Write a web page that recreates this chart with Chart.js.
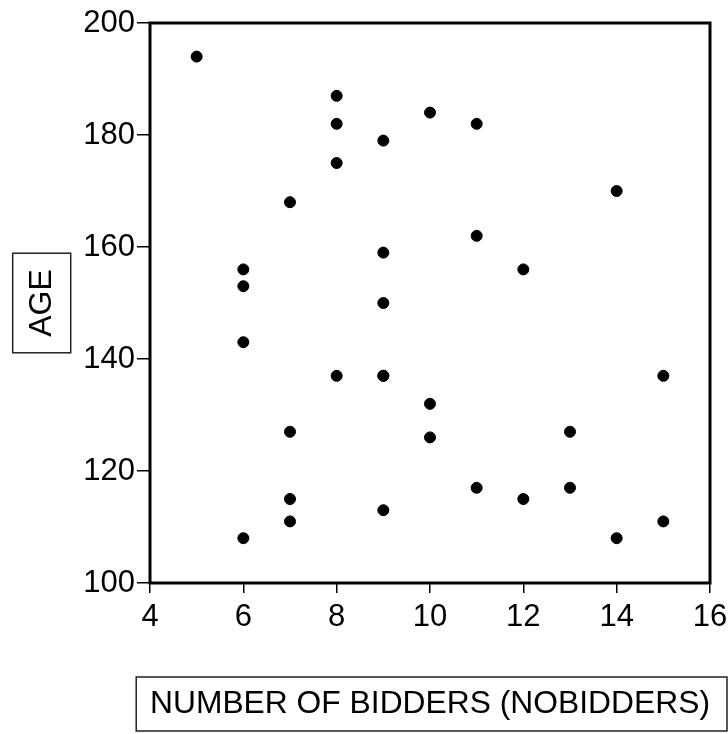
<!DOCTYPE html>
<html>
<head>
<meta charset="utf-8">
<script src="https://cdn.jsdelivr.net/npm/chart.js@4.4.1/dist/chart.umd.min.js"></script>
<style>
  html, body { margin: 0; padding: 0; background: #fff; }
  #wrap { width: 728px; height: 734px; }
</style>
</head>
<body>
<div id="wrap"><canvas id="scatterChart"></canvas></div>
<script>
// number of bidders vs age
let bidders = [5, 6, 6, 6, 6, 7, 7, 7, 7, 8, 8, 8, 8, 9, 9, 9, 9, 9, 9,
  10, 10, 10, 11, 11, 11, 12, 12, 13, 13, 14, 14, 15, 15];
let ages = [194, 156, 153, 143, 108, 168, 127, 115, 111, 187, 182, 175, 137, 179, 159, 150, 137, 113, 137,
  184, 132, 126, 182, 162, 117, 156, 115, 127, 117, 170, 108, 137, 111];

let xTitle = "NUMBER OF BIDDERS (NOBIDDERS)";
let yTitle = "AGE";

let points = bidders.map((b, i) => ({ x: b, y: ages[i] }));

const FONT = '"Liberation Sans", Arial, sans-serif';

// frame round the plot + boxes round the axis titles
const boxPlugin = {
  id: 'boxes',
  afterDraw(chart) {
    const ctx = chart.ctx;
    const a = chart.chartArea;
    ctx.save();
    ctx.strokeStyle = '#000';
    ctx.lineWidth = 3;
    ctx.strokeRect(a.left, a.top, a.right - a.left, a.bottom - a.top);

    ctx.lineWidth = 1.5;
    ctx.strokeStyle = '#222';
    ctx.font = '32px ' + FONT;

    // y title box
    let ys = chart.scales.y;
    let yw = ctx.measureText(yTitle).width;
    let cx = ys.left + 22.5 + 19.2;
    let cy = (a.top + a.bottom) / 2;
    ctx.strokeRect(cx - 29, cy - yw / 2 - 16, 58, yw + 32);

    // x title box
    let xw = ctx.measureText(xTitle).width;
    let mx = (a.left + a.right) / 2;
    let my = chart.height - 10.8 - 19.2;
    let left = mx - xw / 2 - 12;
    ctx.strokeRect(left, my - 27, 727 - left, 54);
    ctx.restore();
  }
};

let ctx = document.getElementById('scatterChart').getContext('2d');
new Chart(ctx, {
  type: 'scatter',
  data: {
    datasets: [{
      data: points,
      backgroundColor: '#000',
      borderColor: '#000',
      pointRadius: 5.5,
      pointHoverRadius: 5.5
    }]
  },
  options: {
    responsive: true,
    maintainAspectRatio: false,
    animation: false,
    layout: { padding: { top: 23, right: 18, bottom: 0, left: 0 } },
    plugins: { legend: { display: false }, tooltip: { enabled: false } },
    scales: {
      x: {
        min: 4, max: 16,
        border: { display: false },
        grid: { drawOnChartArea: false, drawTicks: true, tickLength: 10, color: '#000', lineWidth: 1.5 },
        ticks: { stepSize: 2, padding: 6, color: '#000', font: { family: FONT, size: 31 } },
        title: {
          display: true, text: xTitle, color: '#000',
          font: { family: FONT, size: 32 },
          padding: { top: 30, bottom: 10.8 }
        },
        // fixed height so the plot bottom sits where the reference has it
        afterFit(scale) {
          scale.height = 151;
          scale.paddingLeft = 0;
          scale.paddingRight = 0;
        }
      },
      y: {
        min: 100, max: 200,
        border: { display: false },
        grid: { drawOnChartArea: false, drawTicks: true, tickLength: 13, color: '#000', lineWidth: 1.5 },
        ticks: { stepSize: 20, padding: 2, color: '#000', font: { family: FONT, size: 31 } },
        title: {
          display: true, text: yTitle, color: '#000',
          font: { family: FONT, size: 32 },
          padding: { top: 22.5, bottom: 10 }
        },
        afterFit(scale) {
          scale.width = 150;
          scale.paddingTop = 0;
          scale.paddingBottom = 0;
        }
      }
    }
  },
  plugins: [boxPlugin]
});
</script>
</body>
</html>
